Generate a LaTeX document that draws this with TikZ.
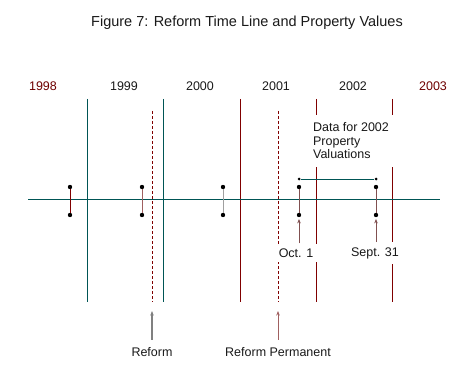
\documentclass[tikz,border=0pt]{standalone}
\usepackage{fontspec}
\setmainfont{Liberation Sans}
\usetikzlibrary{arrows.meta}

\definecolor{tealline}{RGB}{0,85,85}
\definecolor{redline}{RGB}{128,0,0}
\definecolor{rosyline}{RGB}{160,96,96}
\definecolor{grayline}{RGB}{160,160,160}
\definecolor{brownline}{RGB}{128,80,80}
\definecolor{redtext}{RGB}{110,0,0}

\begin{document}
\begin{tikzpicture}[x=1pt, y=-1pt,
    dot/.style={circle, fill=black, inner sep=0pt, minimum size=4.4pt},
    smalldot/.style={circle, fill=black, inner sep=0pt, minimum size=3pt},
    lbl/.style={font=\fontsize{12.5}{13.5}\selectfont, text=black!90},
    tip/.style={-{Stealth[length=4.5pt, width=3.5pt]}}]
      \useasboundingbox (0,0) rectangle (473,382);
      \node [font=\fontsize{14.5}{16}\selectfont, text=black!90] (title) at (247,23) {Figure 7: Reform Time Line and Property Values};
      % years
      \foreach \x/\yr/\c in {43/1998/redtext, 124/1999/black!90, 200/2000/black!90, 276/2001/black!90, 353/2002/black!90, 433/2003/redtext} {
        \node [lbl, text=\c] (y\yr) at (\x,86) {\yr};
      }
      % year boundaries and reform dates
      \foreach \x/\c [count=\i] in {87/tealline, 163/tealline, 240/redline, 316/redline, 392/redline} {
        \coordinate (t\i) at (\x,99);
        \coordinate (b\i) at (\x,302);
        \draw [\c, line width=0.8pt] (t\i) -- (b\i);
      }
      \foreach \x [count=\i] in {152,278} {
        \coordinate (dt\i) at (\x,111);
        \coordinate (db\i) at (\x,302);
        \draw [redline, line width=0.7pt, dash pattern=on 3pt off 2pt] (dt\i) -- (db\i);
      }
      \coordinate (axl) at (28,199);
      \coordinate (axr) at (440,199);
      \draw [tealline, line width=0.8pt] (axl) -- (axr);
      % sale pairs
      \foreach \x/\c [count=\i] in {70/redline, 142/rosyline, 223/grayline, 299/brownline, 376/brownline} {
        \node [dot] (u\i) at (\x,187) {};
        \node [dot] (d\i) at (\x,215) {};
        \draw [\c, line width=0.9pt] (u\i) -- (d\i);
      }
      % valuation window
      \node [lbl, fill=white, align=left, inner xsep=6pt, inner ysep=8pt] (data) at (351,141) {Data for 2002\\Property\\Valuations};
      \node [smalldot] (s1) at (299,179) {};
      \node [smalldot] (s2) at (376,179) {};
      \draw [tealline, line width=0.8pt] (s1) -- (s2);
      \node [lbl, fill=white, inner xsep=5pt, inner ysep=5pt] (oct) at (296,253) {Oct. 1};
      \node [lbl, fill=white, inner xsep=5pt, inner ysep=5pt] (sept) at (375,253) {Sept. 31};
      \draw [brownline, line width=0.8pt, tip, shorten >=1.5pt] (d4 |- oct.north) -- (d4);
      \draw [brownline, line width=0.8pt, tip, shorten >=1.5pt] (d5 |- sept.north) -- (d5);
      % reform labels
      \node [lbl] (reform) at (152,352) {Reform};
      \node [lbl] (perm) at (278,352) {Reform Permanent};
      \draw [gray, line width=1.2pt, tip, shorten <=4pt, shorten >=9pt] (reform) -- (db1);
      \draw [rosyline, line width=0.8pt, tip, shorten <=4pt, shorten >=9pt] (perm) -- (db2);
    \end{tikzpicture}
\end{document}
